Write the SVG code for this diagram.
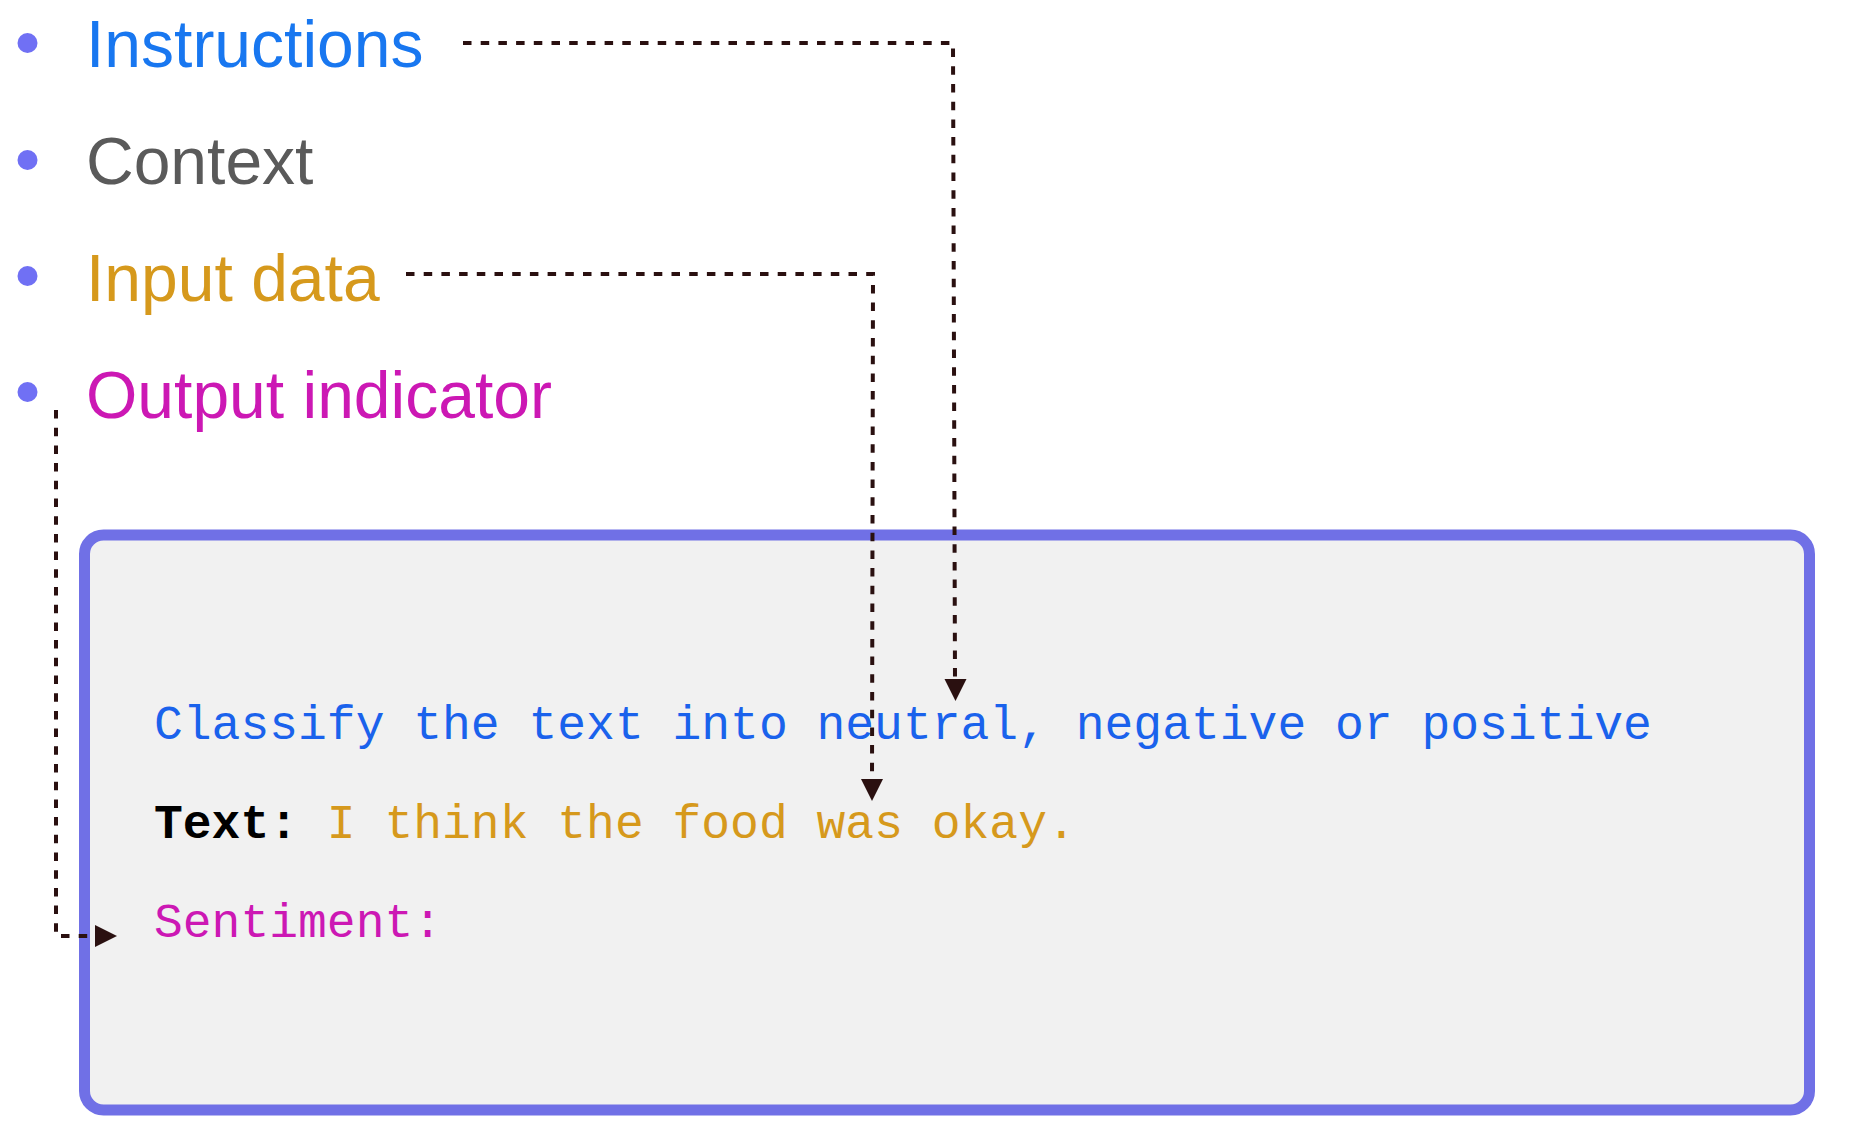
<svg xmlns="http://www.w3.org/2000/svg" width="1852" height="1140" viewBox="0 0 1852 1140">
<defs>
<style>
.bullet{fill:#7070f4}
.lbl{font-family:"Liberation Sans",Arial,sans-serif;font-size:66px}
.mono{font-family:"Liberation Mono","Courier New",monospace;font-size:48px}
.conn{fill:none;stroke:#2a1010;stroke-width:4;stroke-dasharray:8.5 9.2}
.head{fill:#2a1010}
</style>
</defs>
<rect width="1852" height="1140" fill="#ffffff"/>
<g id="legend-instructions">
<circle class="bullet" cx="27.5" cy="43" r="10"/>
<text class="lbl" x="86" y="67" fill="#1877f0">Instructions</text>
</g>
<g id="legend-context">
<circle class="bullet" cx="27.5" cy="160" r="10"/>
<text class="lbl" x="86" y="184" fill="#5a5a5a">Context</text>
</g>
<g id="legend-input">
<circle class="bullet" cx="27.5" cy="276" r="10"/>
<text class="lbl" x="86" y="301" fill="#d6991c">Input data</text>
</g>
<g id="legend-output">
<circle class="bullet" cx="27.5" cy="392" r="10"/>
<text class="lbl" x="86" y="418" fill="#cc18b4">Output indicator</text>
</g>
<g id="prompt-box">
<rect x="84.5" y="535" width="1725" height="575" rx="19" ry="19" fill="#f1f1f1" stroke="#7070e6" stroke-width="11"/>
<text class="mono" x="154" y="739" fill="#1a62ec">Classify the text into neutral, negative or positive</text>
<text class="mono" x="154" y="838"><tspan fill="#000000" font-weight="bold">Text:</tspan><tspan fill="#d6991c"> I think the food was okay.</tspan></text>
<text class="mono" x="154" y="937" fill="#cc18b4">Sentiment:</text>
</g>
<g id="connectors">
<path class="conn" d="M463 43 H953 L955 680"/>
<polygon class="head" points="944.5,679 966.5,679 955.5,701"/>
<path class="conn" d="M406 274 H873 L872 780"/>
<polygon class="head" points="861,779 883,779 872,801"/>
<path class="conn" d="M56 410 V936 H96"/>
<polygon class="head" points="95,925 95,947 117,936"/>
</g>
</svg>
